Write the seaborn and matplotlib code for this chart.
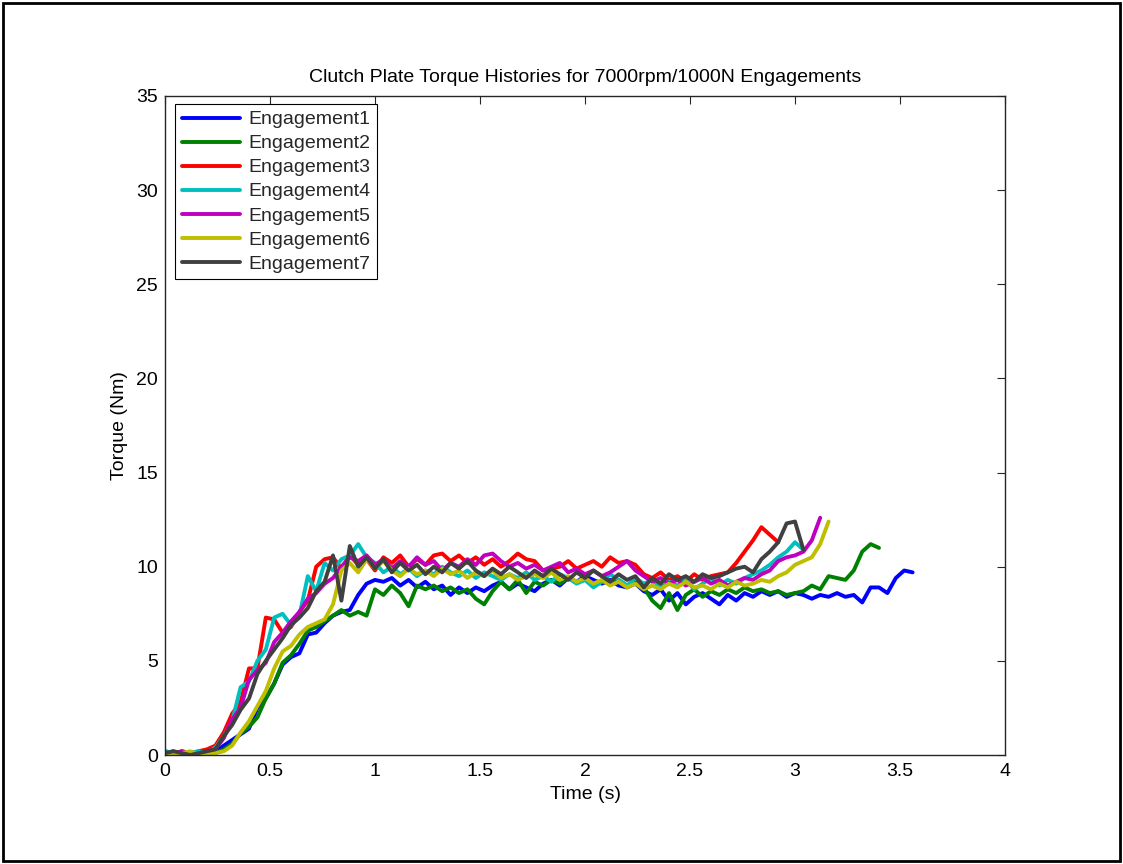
import numpy as np
import pandas as pd
import matplotlib
matplotlib.use("Agg")
import matplotlib.pyplot as plt
import seaborn as sns
from matplotlib.patches import Rectangle

# Sample interval of the logged torque traces (s)
STEP = 0.04

engagement1 = [0.2, 0.1, 0.0, 0.15, 0.05, 0.1, 0.15, 0.5, 0.8, 1.1,
               1.4, 2.5, 3.0, 3.8, 4.8, 5.2, 5.4, 6.4, 6.5, 7.0,
               7.4, 7.6, 7.7, 8.5, 9.1, 9.3, 9.2, 9.4, 9.0, 9.3,
               8.9, 9.2, 8.8, 9.0, 8.5, 8.9, 8.6, 8.9, 8.7, 9.0,
               9.2, 8.8, 9.1, 8.9, 8.7, 9.1, 9.3, 9.0, 9.4, 9.2,
               9.5, 9.3, 9.1, 9.3, 9.0, 8.9, 9.1, 8.7, 8.5, 8.8,
               8.2, 8.6, 8.0, 8.4, 8.6, 8.3, 8.0, 8.5, 8.2, 8.6,
               8.4, 8.7, 8.5, 8.7, 8.4, 8.6, 8.5, 8.3, 8.5, 8.4,
               8.6, 8.4, 8.5, 8.1, 8.9, 8.9, 8.6, 9.4, 9.8, 9.7]

engagement2 = [0.1, 0.2, 0.0, 0.1, 0.05, 0.15, 0.1, 0.3, 0.6, 1.15,
               1.5, 2.0, 3.0, 3.8, 4.9, 5.3, 5.9, 6.6, 6.8, 7.1,
               7.4, 7.7, 7.4, 7.6, 7.4, 8.8, 8.5, 9.0, 8.6, 7.9,
               9.0, 8.8, 9.0, 8.7, 8.9, 8.6, 8.8, 8.3, 8.0, 8.7,
               9.2, 8.8, 9.3, 8.6, 9.2, 9.0, 9.3, 9.1, 9.4, 9.2,
               9.3, 9.0, 9.2, 9.1, 9.3, 9.0, 9.2, 8.9, 8.2, 7.8,
               8.6, 7.7, 8.5, 8.8, 8.4, 8.7, 8.5, 8.8, 8.6, 8.9,
               8.7, 8.8, 8.6, 8.7, 8.5, 8.6, 8.7, 9.0, 8.8, 9.5,
               9.4, 9.3, 9.8, 10.8, 11.2, 11.0]

engagement3 = [0.1, 0.0, 0.2, 0.1, 0.2, 0.3, 0.5, 1.2, 2.2, 2.8,
               4.6, 4.6, 7.3, 7.2, 6.5, 6.8, 7.6, 8.2, 10.0, 10.4,
               10.5, 9.9, 10.6, 10.1, 10.4, 9.8, 10.5, 10.2, 10.6, 10.0,
               10.4, 10.1, 10.6, 10.7, 10.3, 10.6, 10.2, 10.5, 10.1, 10.4,
               10.0, 10.3, 10.7, 10.4, 10.3, 9.8, 9.9, 10.0, 10.3, 9.9,
               10.1, 10.3, 10.0, 10.5, 10.2, 10.3, 10.1, 9.6, 9.4, 9.7,
               9.3, 9.5, 9.2, 9.6, 9.3, 9.5, 9.6, 9.7, 10.2, 10.8,
               11.4, 12.1, 11.7, 11.3]

engagement4 = [0.2, 0.1, 0.0, 0.1, 0.2, 0.1, 0.4, 1.0, 1.8, 3.6,
               3.9, 5.0, 5.6, 7.3, 7.5, 6.9, 7.4, 9.5, 8.7, 10.2,
               9.8, 10.4, 10.6, 11.2, 10.5, 10.2, 9.7, 10.0, 9.6, 9.9,
               9.5, 9.8, 9.6, 10.0, 9.7, 9.5, 9.8, 9.4, 9.7, 9.5,
               9.3, 9.6, 9.4, 9.7, 9.3, 9.5, 9.2, 9.6, 9.4, 9.1,
               9.3, 8.9, 9.2, 9.6, 9.3, 9.0, 9.4, 9.1, 9.3, 8.9,
               9.2, 9.0, 9.3, 8.8, 9.1, 9.4, 9.0, 9.3, 9.1, 9.4,
               9.6, 9.8, 10.1, 10.5, 10.8, 11.3, 10.9]

engagement5 = [0.0, 0.1, 0.2, 0.1, 0.0, 0.2, 0.3, 0.9, 1.9, 2.5,
               4.0, 4.5, 4.9, 6.0, 6.5, 7.1, 7.6, 8.3, 8.6, 9.1,
               9.4, 10.0, 10.5, 10.3, 10.6, 10.1, 10.4, 9.9, 10.3, 10.0,
               10.5, 10.1, 10.3, 9.8, 10.2, 10.0, 10.4, 10.1, 10.6, 10.7,
               10.3, 10.0, 10.2, 9.9, 10.1, 9.8, 10.0, 10.2, 9.7, 9.9,
               9.6, 9.8, 9.5, 9.7, 10.0, 10.3, 9.8, 9.5, 9.2, 9.4,
               9.1, 9.3, 9.0, 9.2, 9.4, 9.1, 9.3, 9.0, 9.2, 9.4,
               9.3, 9.6, 9.8, 10.3, 10.5, 10.6, 10.8, 11.4, 12.6]

engagement6 = [0.1, 0.0, 0.1, 0.2, 0.0, 0.1, 0.1, 0.2, 0.5, 1.2,
               1.8, 2.6, 3.4, 4.6, 5.5, 5.8, 6.4, 6.8, 7.0, 7.2,
               8.0, 9.8, 10.2, 9.7, 10.4, 9.9, 10.3, 9.8, 9.5, 9.9,
               9.6, 9.8, 9.5, 9.9, 9.6, 9.8, 9.4, 9.7, 9.5, 9.8,
               9.4, 9.6, 9.3, 9.5, 9.6, 9.4, 9.7, 9.3, 9.5, 9.2,
               9.4, 9.1, 9.3, 9.0, 9.2, 8.9, 9.1, 8.8, 9.0, 8.8,
               9.1, 8.9, 9.2, 8.9, 9.0, 8.8, 9.1, 8.9, 9.2, 9.0,
               9.1, 9.3, 9.2, 9.5, 9.7, 10.1, 10.3, 10.5, 11.2, 12.4]

engagement7 = [0.1, 0.2, 0.1, 0.0, 0.1, 0.2, 0.3, 1.0, 1.6, 2.4,
               3.0, 4.3, 5.0, 5.6, 6.2, 6.9, 7.3, 7.8, 8.7, 9.2,
               10.6, 8.2, 11.1, 10.0, 10.5, 9.9, 10.4, 9.7, 10.2, 9.8,
               10.1, 9.6, 10.0, 9.7, 10.2, 9.9, 10.3, 9.8, 9.5, 9.9,
               9.6, 10.0, 9.7, 9.4, 9.8, 9.5, 9.9, 9.6, 9.3, 9.7,
               9.4, 9.8, 9.5, 9.2, 9.6, 9.3, 9.5, 8.9, 9.4, 9.1,
               9.6, 9.3, 9.5, 9.2, 9.6, 9.4, 9.5, 9.7, 9.9, 10.0,
               9.7, 10.4, 10.8, 11.3, 12.3, 12.4, 10.9]

run_names = ["Engagement1", "Engagement2", "Engagement3", "Engagement4",
             "Engagement5", "Engagement6", "Engagement7"]
run_values = [engagement1, engagement2, engagement3, engagement4,
              engagement5, engagement6, engagement7]
run_colors = ["#0000ff", "#008000", "#ff0000", "#00bfbf",
              "#bf00bf", "#bfbf00", "#404040"]

x_ticks = [0, 0.5, 1, 1.5, 2, 2.5, 3, 3.5, 4]
x_tick_labels = ["0", "0.5", "1", "1.5", "2", "2.5", "3", "3.5", "4"]
y_ticks = [0, 5, 10, 15, 20, 25, 30, 35]

frames = []
for name, vals in zip(run_names, run_values):
    frames.append(pd.DataFrame({
        "Time": np.arange(len(vals)) * STEP,
        "Torque": vals,
        "Run": name,
    }))
df = pd.concat(frames, ignore_index=True)

sns.set_theme(style="white")
plt.rcParams["font.family"] = ["Liberation Sans", "DejaVu Sans"]

FS = 14
fig = plt.figure(figsize=(11.23, 8.64), dpi=100)
ax = fig.add_axes([165 / 1123, 109 / 864, 840 / 1123, 659 / 864])

sns.lineplot(data=df, x="Time", y="Torque", hue="Run", hue_order=run_names,
             palette=run_colors, linewidth=2.8, estimator=None, sort=False,
             ax=ax)

ax.set_xlim(0, 4)
ax.set_ylim(0, 35)
ax.set_xticks(x_ticks)
ax.set_xticklabels(x_tick_labels)
ax.set_yticks(y_ticks)
ax.tick_params(direction="in", top=True, right=True, length=6, width=0.8,
               color="#262626", labelsize=FS, labelcolor="black")
ax.tick_params(axis="x", pad=6)
ax.tick_params(axis="y", pad=5)
for sp in ax.spines.values():
    sp.set_color("#262626")
    sp.set_linewidth(1.0)

ax.set_title("Clutch Plate Torque Histories for 7000rpm/1000N Engagements",
             fontsize=FS, pad=10, color="black")
ax.set_xlabel("Time (s)", fontsize=FS, labelpad=4, color="black")
ax.set_ylabel("Torque (Nm)", fontsize=FS, labelpad=6, color="black")

handles, labels = ax.get_legend_handles_labels()
leg = ax.legend(handles, labels, loc="upper left",
                bbox_to_anchor=(10 / 840, 1 - 8 / 659), borderaxespad=0,
                fontsize=FS, handlelength=3.0, handletextpad=0.4,
                labelspacing=0.33, borderpad=0.35, frameon=True,
                fancybox=False, framealpha=1.0, edgecolor="black")
leg.get_frame().set_linewidth(0.8)
for line in leg.get_lines():
    line.set_linewidth(2.8)

# Outer border around the whole figure
fig.add_artist(Rectangle((3 / 1123, 3 / 864), 1117 / 1123, 858 / 864,
                         transform=fig.transFigure, fill=False,
                         edgecolor="black", linewidth=2))

fig.savefig("out.png", dpi=100, facecolor="white")
